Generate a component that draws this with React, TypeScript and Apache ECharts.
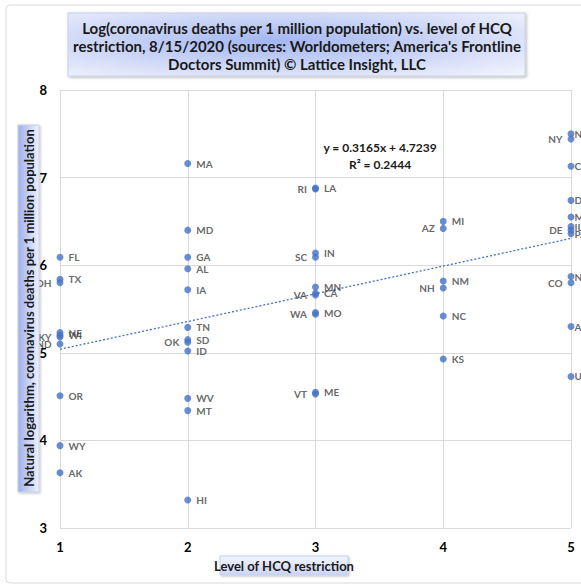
import React, { useEffect, useRef } from "react";
import * as echarts from "echarts";

const states = [
  "FL", "TX", "OH", "NE", "WI", "KY", "ND", "OR", "WY", "AK",
  "MA", "MD", "GA", "AL", "IA", "TN", "SD", "OK", "ID", "WV", "MT", "HI",
  "RI", "LA", "SC", "IN", "MN", "VA", "CA", "WA", "MO", "VT", "ME",
  "MI", "AZ", "NM", "NH", "NC", "KS",
  "NJ", "NY", "CT", "DC", "MS", "IL", "DE", "PA", "NV", "CO", "AR", "UT",
];
const hcqLevel = [
  1, 1, 1, 1, 1, 1, 1, 1, 1, 1,
  2, 2, 2, 2, 2, 2, 2, 2, 2, 2, 2, 2,
  3, 3, 3, 3, 3, 3, 3, 3, 3, 3, 3,
  4, 4, 4, 4, 4, 4,
  5, 5, 5, 5, 5, 5, 5, 5, 5, 5, 5, 5,
];
const logDeaths = [
  6.09, 5.84, 5.8, 5.23, 5.2, 5.18, 5.1, 4.51, 3.94, 3.63,
  7.16, 6.4, 6.09, 5.96, 5.72, 5.29, 5.15, 5.12, 5.02, 4.48, 4.34, 3.32,
  6.87, 6.88, 6.09, 6.14, 5.75, 5.66, 5.68, 5.44, 5.46, 4.53, 4.55,
  6.5, 6.42, 5.82, 5.74, 5.42, 4.93,
  7.5, 7.44, 7.13, 6.74, 6.55, 6.44, 6.4, 6.36, 5.87, 5.8, 5.3, 4.73,
];
const leftLabelled = ["OH", "KY", "ND", "OK", "RI", "SC", "VA", "WA", "VT", "AZ", "NH", "NY", "DE", "CO"];

const trendSlope = 0.3165;
const trendIntercept = 4.7239;
const trendRange = [1, 5];

const xTicks = { min: 1, max: 5, interval: 1 };
const yTicks = { min: 3, max: 8, interval: 1 };

const titleLines = [
  "Log(coronavirus deaths per 1 million population) vs. level of HCQ",
  "restriction, 8/15/2020 (sources: Worldometers; America's Frontline",
  "Doctors Summit) © Lattice Insight, LLC",
];
const yTitle = "Natural logarithm, coronavirus deaths per 1 million population";
const xTitle = "Level of HCQ restriction";
const eqLines = ["y = 0.3165x + 4.7239", "R² = 0.2444"];

const FONT = "Lato, 'Open Sans', sans-serif";

export default function App() {
  const ref = useRef<HTMLDivElement>(null);
  useEffect(() => {
    if (!ref.current) return;
    const chart = echarts.init(ref.current, null, { renderer: "svg" });
    const pts = states.map((s, i) => {
      const left = leftLabelled.includes(s);
      const edge = !left && hcqLevel[i] === xTicks.max;
      return {
        name: s,
        value: [hcqLevel[i], logDeaths[i]],
        label: { position: left ? "left" : "right", distance: edge ? 0 : 5 },
      };
    });
    const trend = trendRange.map((x) => [x, trendSlope * x + trendIntercept]);
    const option: any = {
      animation: false,
      backgroundColor: "#ffffff",
      grid: { left: 60, right: 10, top: 90, bottom: 60 },
      xAxis: {
        type: "value",
        min: xTicks.min,
        max: xTicks.max,
        interval: xTicks.interval,
        axisLine: { show: false },
        axisTick: { show: false },
        splitLine: { show: true, lineStyle: { color: "#d9d9d9", width: 1 } },
        axisLabel: { color: "#000", fontFamily: FONT, fontWeight: "bold", fontSize: 13, margin: 12 },
      },
      yAxis: {
        type: "value",
        min: yTicks.min,
        max: yTicks.max,
        interval: yTicks.interval,
        axisLine: { show: false },
        axisTick: { show: false },
        splitLine: { show: true, lineStyle: { color: "#d9d9d9", width: 1 } },
        axisLabel: { color: "#000", fontFamily: FONT, fontWeight: "bold", fontSize: 13, margin: 13 },
      },
      series: [
        {
          type: "line",
          data: trend,
          symbol: "none",
          lineStyle: { color: "#4472C4", width: 1.3, type: [2, 2] },
          z: 1,
          silent: true,
        },
        {
          type: "scatter",
          data: pts,
          symbolSize: 7,
          itemStyle: { color: "#4472C4" },
          label: {
            show: true,
            formatter: "{b}",
            color: "#404040",
            fontFamily: FONT,
            fontWeight: "bold",
            fontSize: 10,
          },
          z: 3,
        },
      ],
      graphic: [
        {
          type: "rect",
          shape: { x: 6, y: 5, width: 580, height: 578, r: 4 },
          style: { fill: "none", stroke: "#d9d9d9", lineWidth: 1 },
          silent: true,
          z: 0,
        },
        {
          type: "rect",
          shape: { x: 68, y: 13, width: 457, height: 63 },
          style: {
            fill: new echarts.graphic.RadialGradient(0.45, 0.45, 0.75, [
              { offset: 0, color: "#a3b6f0" },
              { offset: 1, color: "#f2f4fd" },
            ]),
            stroke: "#c8cfe8",
            lineWidth: 1,
            shadowBlur: 3,
            shadowColor: "rgba(0,0,0,0.3)",
            shadowOffsetX: 1,
            shadowOffsetY: 1,
          },
          z: 10,
        },
        ...titleLines.map((t, i) => ({
          type: "text",
          x: 297,
          y: 28 + i * 18,
          style: {
            text: t,
            fill: "#1a1a1a",
            font: `bold 15px ${FONT}`,
            textAlign: "center",
            textVerticalAlign: "middle",
          },
          z: 11,
        })),
        {
          type: "rect",
          shape: { x: 18, y: 125, width: 21, height: 367 },
          style: {
            fill: new echarts.graphic.LinearGradient(0, 0, 1, 0, [
              { offset: 0, color: "#9fb0ec" },
              { offset: 1, color: "#eef1fc" },
            ]),
            stroke: "#c8cfe8",
            lineWidth: 1,
            shadowBlur: 2,
            shadowColor: "rgba(0,0,0,0.25)",
            shadowOffsetX: 1,
            shadowOffsetY: 1,
          },
          z: 10,
        },
        {
          type: "text",
          x: 29,
          y: 308,
          rotation: Math.PI / 2,
          style: {
            text: yTitle,
            fill: "#1a1a1a",
            font: `bold 13px ${FONT}`,
            textAlign: "center",
            textVerticalAlign: "middle",
          },
          z: 11,
        },
        {
          type: "rect",
          shape: { x: 220, y: 556, width: 128, height: 19 },
          style: {
            fill: new echarts.graphic.LinearGradient(0, 0, 0, 1, [
              { offset: 0, color: "#f4f6fd" },
              { offset: 1, color: "#c9d3f4" },
            ]),
            stroke: "#c8cfe8",
            lineWidth: 1,
            shadowBlur: 2,
            shadowColor: "rgba(0,0,0,0.25)",
            shadowOffsetX: 1,
            shadowOffsetY: 1,
          },
          z: 10,
        },
        {
          type: "text",
          x: 284,
          y: 566,
          style: {
            text: xTitle,
            fill: "#1a1a1a",
            font: `bold 13px ${FONT}`,
            textAlign: "center",
            textVerticalAlign: "middle",
          },
          z: 11,
        },
        ...eqLines.map((t, i) => ({
          type: "text",
          x: 380,
          y: 147 + i * 17,
          style: {
            text: t,
            fill: "#1a1a1a",
            font: `bold 12px ${FONT}`,
            textAlign: "center",
            textVerticalAlign: "middle",
          },
          z: 11,
        })),
      ],
    };
    chart.setOption(option);
    return () => chart.dispose();
  }, []);
  return (
    <div
      ref={ref}
      style={{ position: "absolute", left: 0, top: 0, width: 581, height: 588, overflow: "hidden" }}
    />
  );
}
